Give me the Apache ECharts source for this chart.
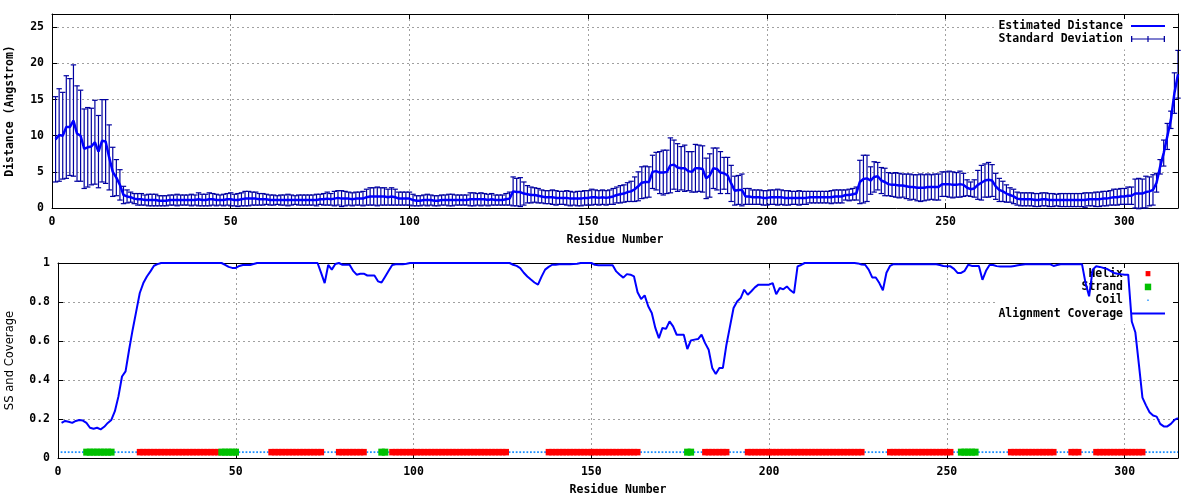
<!DOCTYPE html>
<html><head><meta charset="utf-8">
<script src="https://cdn.jsdelivr.net/npm/echarts@6/dist/echarts.min.js"></script>
<style>html,body{margin:0;padding:0;background:#fff}#c{width:1200px;height:500px}</style>
</head><body><div id="c"></div>
<script>
// ---------- data ----------
const distMean = [
 9.5,10.1,10.0,11.2,11.2,12.1,10.3,10.0,8.2,8.4,
 8.5,9.1,7.8,9.3,9.2,7.0,5.0,4.2,3.2,1.8,
 1.6,1.5,1.3,1.2,1.2,1.1,1.1,1.1,1.1,1.0,
 1.0,1.0,1.1,1.1,1.1,1.1,1.1,1.1,1.1,1.1,
 1.2,1.1,1.1,1.2,1.2,1.1,1.1,1.1,1.2,1.2,
 1.1,1.1,1.2,1.3,1.3,1.3,1.3,1.2,1.2,1.2,
 1.1,1.1,1.1,1.1,1.1,1.1,1.1,1.1,1.1,1.1,
 1.1,1.1,1.1,1.1,1.2,1.2,1.3,1.2,1.3,1.4,
 1.3,1.3,1.3,1.2,1.3,1.3,1.3,1.5,1.6,1.6,
 1.6,1.6,1.6,1.5,1.6,1.5,1.3,1.3,1.3,1.3,
 1.1,1.0,1.0,1.1,1.1,1.1,1.0,1.0,1.1,1.1,
 1.1,1.1,1.1,1.1,1.1,1.1,1.2,1.2,1.2,1.2,
 1.2,1.1,1.2,1.1,1.1,1.1,1.2,1.3,2.3,2.2,
 2.2,2.0,1.9,1.8,1.8,1.7,1.6,1.5,1.5,1.5,
 1.4,1.4,1.4,1.4,1.3,1.3,1.3,1.3,1.4,1.4,
 1.5,1.5,1.4,1.5,1.4,1.5,1.6,1.8,1.9,2.0,
 2.2,2.3,2.6,3.0,3.5,3.6,3.6,5.0,5.1,4.9,
 4.9,5.0,5.9,6.0,5.6,5.5,5.5,5.1,5.0,5.5,
 5.5,5.4,4.1,4.5,5.5,5.4,4.9,4.8,4.5,3.4,
 2.4,2.5,2.5,1.6,1.6,1.5,1.5,1.5,1.4,1.4,
 1.5,1.5,1.5,1.5,1.4,1.4,1.4,1.4,1.4,1.4,
 1.4,1.5,1.5,1.5,1.5,1.5,1.5,1.5,1.6,1.6,
 1.6,1.8,1.8,1.9,2.0,3.6,4.0,4.1,3.8,4.3,
 4.4,3.8,3.6,3.3,3.2,3.2,3.1,3.1,3.0,2.9,
 2.9,2.8,2.8,2.8,2.9,2.9,2.9,2.9,3.3,3.3,
 3.3,3.2,3.2,3.3,3.2,2.8,2.6,2.7,3.2,3.5,
 3.8,3.9,3.8,3.0,2.5,2.3,2.0,1.8,1.6,1.3,
 1.2,1.2,1.2,1.2,1.1,1.1,1.2,1.2,1.1,1.1,
 1.1,1.1,1.1,1.1,1.1,1.1,1.1,1.1,1.1,1.2,
 1.2,1.2,1.2,1.3,1.3,1.4,1.5,1.5,1.6,1.6,
 1.7,1.7,2.0,2.0,2.0,2.2,2.3,2.5,3.5,5.7,
 7.6,9.9,12.2,15.9,18.5
];
const distSD = [
 5.9,6.4,6.0,7.1,6.7,7.7,6.6,6.3,5.5,5.5,
 5.3,5.8,5.0,5.7,5.8,4.5,3.4,2.5,2.1,1.2,
 0.9,0.7,0.7,0.8,0.8,0.7,0.8,0.8,0.8,0.7,
 0.7,0.7,0.7,0.7,0.8,0.7,0.7,0.7,0.8,0.7,
 0.9,0.8,0.8,0.9,0.8,0.8,0.7,0.8,0.8,0.9,
 0.8,0.9,0.9,1.0,1.0,0.9,0.9,0.8,0.8,0.7,
 0.7,0.7,0.6,0.7,0.7,0.8,0.7,0.6,0.7,0.7,
 0.7,0.7,0.7,0.8,0.7,0.8,0.9,0.8,1.0,1.0,
 1.1,1.0,0.9,0.9,0.9,0.9,1.0,1.1,1.2,1.2,
 1.3,1.2,1.2,1.1,1.2,1.1,0.9,0.9,0.9,0.9,
 0.8,0.7,0.7,0.7,0.8,0.7,0.7,0.7,0.7,0.7,
 0.8,0.8,0.7,0.7,0.7,0.7,0.9,0.9,0.8,0.9,
 0.8,0.8,0.8,0.7,0.7,0.7,0.8,0.9,2.0,1.9,
 2.0,1.6,1.2,1.1,1.0,1.0,0.9,0.9,0.9,1.0,
 1.0,0.9,0.9,1.0,1.0,0.9,1.0,1.0,1.0,1.0,
 1.1,1.0,1.0,1.0,1.0,1.0,1.1,1.1,1.2,1.2,
 1.3,1.4,1.7,2.0,2.2,2.2,2.1,2.3,2.6,2.9,
 3.1,3.0,3.8,3.4,3.3,3.0,3.2,2.7,2.8,3.3,
 3.2,3.2,2.8,3.0,2.8,2.9,2.9,2.2,2.5,2.5,
 2.0,2.0,2.2,1.1,1.1,1.0,1.0,1.0,1.0,1.0,
 1.0,1.0,1.1,1.0,1.0,1.0,0.9,0.9,1.0,0.9,
 0.9,0.8,0.8,0.8,0.8,0.8,0.8,0.9,0.9,0.9,
 0.9,0.7,0.8,0.8,0.9,3.0,3.3,3.2,1.9,2.1,
 1.9,1.8,1.9,1.6,1.6,1.7,1.7,1.6,1.7,1.8,
 1.7,1.8,1.9,1.8,1.8,1.7,1.8,1.8,1.7,1.7,
 1.8,1.8,1.7,1.8,1.6,1.1,1.0,1.2,2.0,2.4,
 2.3,2.4,2.2,1.8,1.6,1.4,1.2,1.0,1.0,0.9,
 0.9,0.9,0.9,0.9,0.9,0.9,0.9,0.9,0.9,0.9,
 0.8,0.9,0.9,0.9,0.9,0.9,0.9,0.9,1.0,0.9,
 0.9,1.0,1.0,1.0,1.0,1.0,1.1,1.1,1.1,1.1,
 1.2,1.2,2.0,2.1,2.0,2.2,2.0,2.1,1.3,1.0,
 1.8,1.8,1.2,2.8,3.3
];
const coverage = [
 0.18,0.19,0.186,0.18,0.19,0.195,0.192,0.18,0.155,0.15,
 0.155,0.147,0.16,0.18,0.195,0.24,0.316,0.418,0.444,0.555,
 0.658,0.752,0.846,0.897,0.931,0.957,0.986,0.994,1,1,
 1,1,1,1,1,1,1,1,1,1,
 1,1,1,1,1,1,0.99,0.98,0.975,0.975,
 0.985,0.99,0.99,0.99,0.995,1,1,1,1,1,
 1,1,1,1,1,1,1,1,1,1,
 1,1,1,0.949,0.897,0.99,0.966,0.995,1,0.991,
 0.991,0.991,0.96,0.94,0.945,0.945,0.936,0.936,0.936,0.906,
 0.9,0.93,0.96,0.99,0.994,0.994,0.994,0.996,1,1,
 1,1,1,1,1,1,1,1,1,1,
 1,1,1,1,1,1,1,1,1,1,
 1,1,1,1,1,1,1,0.991,0.985,0.974,
 0.95,0.931,0.915,0.9,0.889,0.93,0.966,0.98,0.991,0.991,
 0.993,0.993,0.993,0.994,0.995,0.996,1,1,1,1,
 0.991,0.988,0.988,0.988,0.988,0.988,0.957,0.94,0.925,0.943,
 0.94,0.931,0.85,0.815,0.834,0.778,0.744,0.667,0.615,0.667,
 0.662,0.701,0.675,0.632,0.632,0.632,0.559,0.603,0.607,0.61,
 0.632,0.589,0.555,0.462,0.431,0.462,0.462,0.581,0.675,0.769,
 0.803,0.82,0.863,0.837,0.855,0.875,0.889,0.889,0.889,0.889,
 0.897,0.84,0.872,0.865,0.88,0.86,0.846,0.983,0.99,1,
 1,1,1,1,1,1,1,1,1,1,
 1,1,1,1,0.998,0.992,0.991,0.966,0.926,0.926,
 0.897,0.86,0.95,0.985,0.994,0.994,0.994,0.994,0.994,0.994,
 0.994,0.994,0.994,0.994,0.994,0.994,0.994,0.99,0.985,0.983,
 0.983,0.97,0.949,0.949,0.96,0.991,0.985,0.985,0.985,0.914,
 0.96,0.99,0.99,0.984,0.982,0.982,0.982,0.982,0.985,0.988,
 0.991,0.994,0.994,0.994,0.994,0.994,0.994,0.994,0.994,0.985,
 0.99,0.994,0.994,0.994,0.994,0.994,0.994,0.994,0.897,0.829,
 0.966,0.983,0.98,0.975,0.97,0.96,0.949,0.945,0.942,0.94,
 0.94,0.70,0.645,0.48,0.31,0.27,0.235,0.218,0.212,0.175,
 0.162,0.162,0.175,0.195,0.205
];
// secondary structure segments [first residue, last residue]
const helixRanges  = [[23,45],[60,74],[79,86],[94,126],[138,163],[182,188],[194,226],[234,251],[268,280],[285,287],[292,305]];
const strandRanges = [[8,15],[46,50],[91,92],[177,178],[254,258]];
const ssLevel = 0.03;
const xMax = 315;

// ---------- build ----------
const FONT = 'DejaVu Sans Mono';
const residues = distMean.map((_, i) => i + 1);
const meanPts = residues.map((r, i) => [r, distMean[i]]);
const errPts = residues.map((r, i) => [r, distMean[i] - distSD[i], distMean[i] + distSD[i]]);
const covPts = residues.map((r, i) => [r, coverage[i]]);
function inRanges(r, ranges) { return ranges.some(([a, b]) => r >= a && r <= b); }
const helixPts = residues.filter(r => inRanges(r, helixRanges)).map(r => [r, ssLevel]);
const strandPts = residues.filter(r => inRanges(r, strandRanges)).map(r => [r, ssLevel]);
const coilPts = residues.filter(r => !inRanges(r, helixRanges) && !inRanges(r, strandRanges)).map(r => [r, ssLevel]);

const BLUE = '#0000ff', DARKBLUE = '#0000a0', RED = '#ff0000', GREEN = '#00c000', COIL = '#1e90ff';
const txt = { fontFamily: FONT, fontWeight: 'bold', fontSize: 11.5, color: '#000' };

function mainX(gi) {
  return { type: 'value', gridIndex: gi, min: 0, max: xMax, interval: 50, z: 0,
    name: 'Residue Number', nameLocation: 'middle', nameGap: 26, nameTextStyle: txt,
    axisLine: { show: true, onZero: false, lineStyle: { color: '#000', width: 1 } },
    axisTick: { show: true, inside: true, length: 5, lineStyle: { color: '#000' } },
    axisLabel: Object.assign({ margin: 8, formatter: v => (v % 50 === 0 ? String(v) : '') }, txt),
    splitLine: { show: true, lineStyle: { color: '#a0a0a0', type: [2, 3], width: 1 } } };
}
function mirrorX(gi) {
  return { type: 'value', gridIndex: gi, position: 'top', min: 0, max: xMax, interval: 50, z: 3,
    axisLine: { show: true, onZero: false, lineStyle: { color: '#000', width: 1 } },
    axisTick: { show: true, inside: true, length: 5, lineStyle: { color: '#000' } },
    axisLabel: { show: false }, splitLine: { show: false } };
}
function mainY(gi, min, max, interval, name, nameGap, nameStyle, fmt) {
  return { type: 'value', gridIndex: gi, min, max, interval, z: 0,
    name, nameLocation: 'middle', nameGap, nameTextStyle: nameStyle,
    axisLine: { show: true, onZero: false, lineStyle: { color: '#000', width: 1 } },
    axisTick: { show: true, inside: true, length: 5, lineStyle: { color: '#000' } },
    axisLabel: Object.assign({ margin: 8, formatter: fmt }, txt),
    splitLine: { show: true, lineStyle: { color: '#a0a0a0', type: [2, 3], width: 1 } } };
}
function mirrorY(gi, min, max, interval) {
  return { type: 'value', gridIndex: gi, position: 'right', min, max, interval, z: 3,
    axisLine: { show: true, onZero: false, lineStyle: { color: '#000', width: 1 } },
    axisTick: { show: true, inside: true, length: 5, lineStyle: { color: '#000' } },
    axisLabel: { show: false }, splitLine: { show: false } };
}

const ICON_LINE = 'path://M0,0 M34,8 M0,3 L34,3 L34,5 L0,5 Z';
const ICON_ERR = 'path://M0,0 M34,8 M0,1 L1.3,1 L1.3,7 L0,7 Z M0,3.4 L34,3.4 L34,4.6 L0,4.6 Z M16.4,1 L17.6,1 L17.6,7 L16.4,7 Z M32.7,1 L34,1 L34,7 L32.7,7 Z';
const ICON_HELIX = 'path://M0,0 M8,8 M1.6,1.4 L6.4,1.4 L6.4,6.6 L1.6,6.6 Z';
const ICON_STRAND = 'path://M0,0 M8,8 M0.8,0.7 L7.2,0.7 L7.2,7.3 L0.8,7.3 Z';
const ICON_COIL = 'path://M0,0 M8,8 M3.3,3.3 L4.7,3.3 L4.7,4.7 L3.3,4.7 Z';

const legendBase = { z: 1, orient: 'vertical', align: 'right', right: 23, padding: [4, 12, 4, 2],
  itemGap: 0, itemWidth: 34, itemHeight: 8, backgroundColor: '#fff', selectedMode: false, symbolKeepAspect: true };

const option = {
  animation: false,
  backgroundColor: '#fff',
  grid: [
    { left: 52, right: 22, top: 14, height: 194, show: false, containLabel: false, outerBoundsMode: 'none' },
    { left: 58, right: 22, top: 263, height: 195, show: false, containLabel: false, outerBoundsMode: 'none' }
  ],
  xAxis: [mainX(0), mirrorX(0), mainX(1), mirrorX(1)],
  yAxis: [
    mainY(0, 0, 26.84, 5, 'Distance (Angstrom)', 36, txt, v => (v % 5 === 0 ? String(v) : '')),
    mirrorY(0, 0, 26.84, 5),
    mainY(1, 0, 1, 0.2, 'SS and Coverage', 42, { fontFamily: 'DejaVu Sans', fontSize: 11.6, color: '#000' }, null),
    mirrorY(1, 0, 1, 0.2)
  ],
  legend: [
    Object.assign({}, legendBase, { top: 15.5,
      textStyle: Object.assign({ lineHeight: 13, padding: [0, 3, 0, 0] }, txt),
      data: [
        { name: 'Estimated Distance', icon: ICON_LINE, itemStyle: { color: BLUE, opacity: 1 } },
        { name: 'Standard Deviation', icon: ICON_ERR, itemStyle: { color: DARKBLUE, opacity: 1 } }
      ] }),
    Object.assign({}, legendBase, { top: 263,
      textStyle: Object.assign({ lineHeight: 13.3, padding: [0, 3, 0, 0] }, txt),
      data: [
        { name: 'Helix', icon: ICON_HELIX, itemStyle: { color: RED, opacity: 1 } },
        { name: 'Strand', icon: ICON_STRAND, itemStyle: { color: GREEN, opacity: 1 } },
        { name: 'Coil', icon: ICON_COIL, itemStyle: { color: COIL, opacity: 1 } },
        { name: 'Alignment Coverage', icon: ICON_LINE, itemStyle: { color: BLUE, opacity: 1 } }
      ] })
  ],
  series: [
    { name: 'Standard Deviation', type: 'custom', xAxisIndex: 0, yAxisIndex: 0, z: 2,
      itemStyle: { color: DARKBLUE },
      encode: { x: 0, y: [1, 2] },
      data: errPts,
      renderItem: function (params, api) {
        const x = api.value(0);
        const lo = api.coord([x, api.value(1)]);
        const hi = api.coord([x, api.value(2)]);
        const hw = 2.7;
        const style = { stroke: DARKBLUE, lineWidth: 1.2, fill: null };
        return { type: 'group', children: [
          { type: 'line', shape: { x1: lo[0], y1: lo[1], x2: hi[0], y2: hi[1] }, style },
          { type: 'line', shape: { x1: hi[0] - hw, y1: hi[1], x2: hi[0] + hw, y2: hi[1] }, style },
          { type: 'line', shape: { x1: lo[0] - hw, y1: lo[1], x2: lo[0] + hw, y2: lo[1] }, style }
        ] };
      } },
    { name: 'Estimated Distance', type: 'line', xAxisIndex: 0, yAxisIndex: 0, z: 3,
      data: meanPts, symbol: 'none', itemStyle: { color: BLUE },
      lineStyle: { color: BLUE, width: 2.5 } },
    { name: 'Coil', type: 'scatter', xAxisIndex: 2, yAxisIndex: 2, z: 2,
      data: coilPts, symbol: 'rect', symbolSize: 1.8, itemStyle: { color: COIL, opacity: 1 } },
    { name: 'Helix', type: 'scatter', xAxisIndex: 2, yAxisIndex: 2, z: 2,
      data: helixPts, symbol: 'rect', symbolSize: [6, 6.5], itemStyle: { color: RED, opacity: 1 } },
    { name: 'Strand', type: 'scatter', xAxisIndex: 2, yAxisIndex: 2, z: 2,
      data: strandPts, symbol: 'rect', symbolSize: [6.5, 7], itemStyle: { color: GREEN, opacity: 1 } },
    { name: 'Alignment Coverage', type: 'line', xAxisIndex: 2, yAxisIndex: 2, z: 3,
      data: covPts, symbol: 'none', itemStyle: { color: BLUE },
      lineStyle: { color: BLUE, width: 2 } }
  ]
};
const chart = echarts.init(document.getElementById('c'), null, { renderer: 'canvas' });
chart.setOption(option);
</script>
</body></html>
